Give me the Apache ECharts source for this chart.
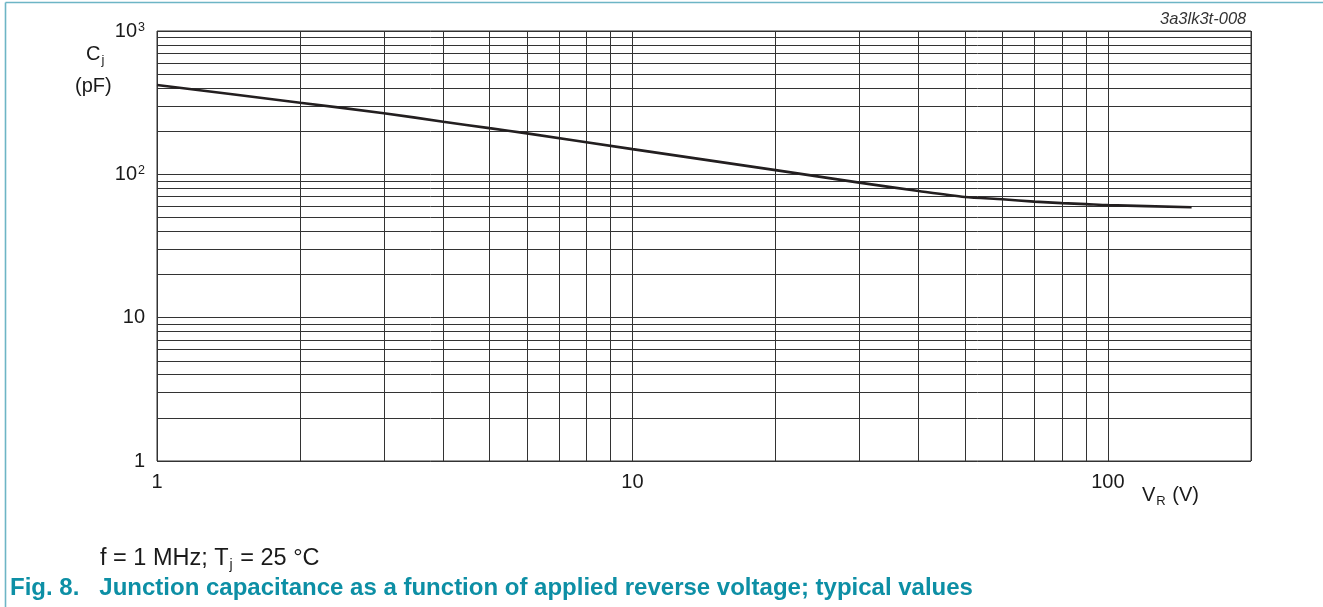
<!DOCTYPE html>
<html><head><meta charset="utf-8">
<script src="https://cdn.jsdelivr.net/npm/echarts@6/dist/echarts.min.js"></script>
<style>html,body{margin:0;padding:0;background:#fff}#c{width:1323px;height:607px}</style>
</head><body><div id="c"></div>
<script>
// Data
const voltage = [1, 2, 3, 4, 5, 6, 10, 20, 30, 40, 50, 60, 70, 80, 90, 100, 150];
const capacitance = [420, 316, 267, 233, 210, 193, 150, 107, 87.5, 76.5, 69.5, 67, 64.5, 63, 62, 61, 59];
const xTickLabels = {1: '1', 10: '10', 100: '100'};
const yTickLabels = {1: '1', 10: '10', 100: '10{s|2}', 1000: '10{s|3}'};
const xMinorGrid = [2, 3, 4, 5, 6, 7, 8, 9, 20, 30, 40, 50, 60, 70, 80, 90];
const yMinorGrid = [2, 3, 4, 5, 6, 7, 8, 9, 20, 30, 40, 50, 60, 70, 80, 90, 200, 300, 400, 500, 600, 700, 800, 900];

const FONT = "'Liberation Sans', Arial, Helvetica, sans-serif";
const GRID = '#333333';
const TEAL = '#6db5c5';

const chart = echarts.init(document.getElementById('c'), null, {renderer: 'canvas'});
const minorLines = xMinorGrid.map(v => ({xAxis: v})).concat(yMinorGrid.map(v => ({yAxis: v})));

chart.setOption({
  animation: false,
  backgroundColor: '#fff',
  grid: {left: 157, top: 31, right: 72, bottom: 146, show: true, borderColor: GRID, borderWidth: 1, backgroundColor: 'transparent'},
  xAxis: {
    type: 'log', logBase: 10, min: 1, max: 200,
    axisLine: {show: false}, axisTick: {show: false},
    splitLine: {show: true, lineStyle: {color: GRID, width: 1}},
    axisLabel: {
      margin: 11, fontFamily: FONT, fontSize: 20, color: '#1a1a1a',
      showMaxLabel: false,
      formatter: v => xTickLabels[Math.round(v)] || ''
    }
  },
  yAxis: {
    type: 'log', logBase: 10, min: 1, max: 1000,
    axisLine: {show: false}, axisTick: {show: false},
    splitLine: {show: true, lineStyle: {color: GRID, width: 1}},
    axisLabel: {
      margin: 12, fontFamily: FONT, fontSize: 20, color: '#1a1a1a',
      formatter: v => yTickLabels[Math.round(v)] || '',
      rich: {
        s: {fontFamily: FONT, fontSize: 12.5, color: '#1a1a1a', verticalAlign: 'top', lineHeight: 12, padding: [0, 0, 8, 1]}
      }
    }
  },
  series: [{
    type: 'line',
    data: voltage.map((v, i) => [v, capacitance[i]]),
    showSymbol: false, symbol: 'none', smooth: 0.25,
    lineStyle: {color: '#231f20', width: 2.6},
    z: 5,
    markLine: {
      silent: true, symbol: ['none', 'none'], label: {show: false},
      lineStyle: {color: GRID, width: 1, type: 'solid'},
      emphasis: {disabled: true},
      data: minorLines, z: 1
    }
  }],
  graphic: [
    {type: 'line', shape: {x1: 5.5, y1: 2.5, x2: 1323, y2: 2.5}, style: {stroke: TEAL, lineWidth: 1.6}, silent: true},
    {type: 'line', shape: {x1: 5.5, y1: 2.5, x2: 5.5, y2: 607}, style: {stroke: TEAL, lineWidth: 1.6}, silent: true},
    {type: 'text', left: 1160, top: 11, style: {text: '3a3lk3t-008', font: 'italic 16.5px ' + FONT, fill: '#333'}},
    {type: 'text', left: 86, top: 44, style: {text: 'C{sub|j}', font: '20px ' + FONT, fill: '#1a1a1a',
      rich: {sub: {fontSize: 13, fontFamily: FONT, fill: '#1a1a1a', verticalAlign: 'bottom', padding: [12, 0, 0, 1]}}}},
    {type: 'text', left: 75, top: 76, style: {text: '(pF)', font: '20px ' + FONT, fill: '#1a1a1a'}},
    {type: 'text', left: 1142, top: 485, style: {text: 'V{sub|R} (V)', font: '20px ' + FONT, fill: '#1a1a1a',
      rich: {sub: {fontSize: 13, fontFamily: FONT, fill: '#1a1a1a', verticalAlign: 'bottom', padding: [12, 1, 0, 1]}}}},
    {type: 'text', left: 100, top: 547, style: {text: 'f = 1 MHz; T{sub|j} = 25 °C', font: '23.5px ' + FONT, fill: '#1a1a1a',
      rich: {sub: {fontSize: 14, fontFamily: FONT, fill: '#1a1a1a', verticalAlign: 'bottom', padding: [13, 1, 0, 1]}}}},
    {type: 'text', left: 10, top: 576, style: {text: 'Fig. 8.   Junction capacitance as a function of applied reverse voltage; typical values',
      font: "bold 24px 'Liberation Sans Narrow', 'Liberation Sans', Arial, sans-serif", fill: '#0d8fa5'}}
  ]
});
</script></body></html>
